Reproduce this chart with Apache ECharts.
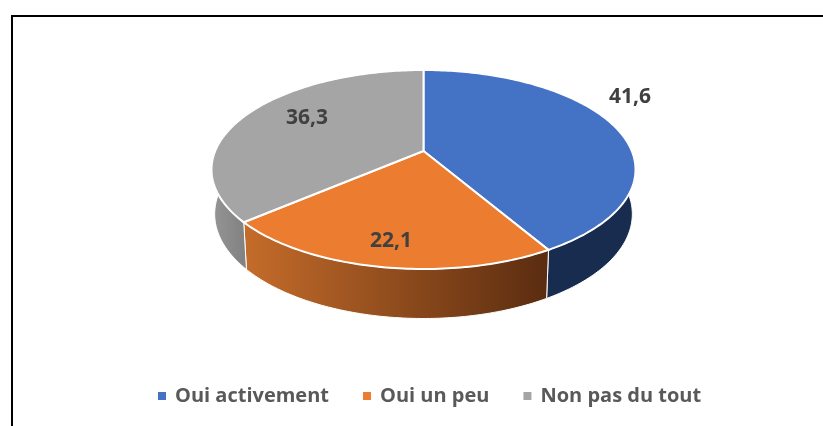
<!DOCTYPE html>
<html>
<head>
<meta charset="utf-8">
<script src="https://cdn.jsdelivr.net/npm/echarts@6/dist/echarts.min.js"></script>
<style>
	html, body { margin: 0; padding: 0; background: #fff; }
	#chart { width: 823px; height: 426px; }
</style>
</head>
<body>
<div id="chart"></div>
<script>
const categories = ["Oui activement", "Oui un peu", "Non pas du tout"]
const values = [41.6, 22.1, 36.3]
const labels = ["41,6", "22,1", "36,3"]

const faceColors = ["#4472C4", "#EB7C30", "#A5A5A5"]
const wallColors = [
	["#182C50", "#182C50"],
	["#C56C2A", "#5A2C10"],
	["#969696", "#808080"],
]
const labelPos = [[630, 97], [391, 241], [307, 118]]

// tilted disc: perspective projection fitted on the picture
const cx = 423.5
const apexY = 151
const R = 208.3
const A = 96.06
const K = 0.186
const project = (deg) => {
	const t = (deg * Math.PI) / 180
	const u = Math.sin(t)
	const v = Math.cos(t)
	const d = 1 + K * v
	return [cx + (R * u) / d, apexY - (A * v) / d]
}
// lower rim of the disc, from the upper one
const lower = (p) => [cx + (p[0] - cx) * 0.985, 213.5 + (p[1] - 169) * 1.05]

const total = values.reduce((a, b) => a + b, 0)
const startDeg = (i) => (values.slice(0, i).reduce((a, b) => a + b, 0) / total) * 360

const arc = (from, to) => {
	const pts = []
	const n = Math.max(2, Math.ceil(to - from))
	for (let i = 0; i <= n; i++) pts.push(project(from + ((to - from) * i) / n))
	return pts
}

const renderSlice = (i) => (params, api) => {
	const from = startDeg(i)
	const to = from + (api.value(0) / total) * 360
	const children = []
	// only the front of the wall shows
	const wallFrom = Math.max(from, 90)
	const wallTo = Math.min(to, 270)
	if (wallTo > wallFrom) {
		const rim = arc(wallFrom, wallTo)
		children.push({
			type: "polygon",
			z2: 1,
			shape: { points: rim.concat(rim.map(lower).reverse()) },
			style: {
				fill: new echarts.graphic.LinearGradient(0, 0, 1, 0, [
					{ offset: 0, color: wallColors[i][0] },
					{ offset: 1, color: wallColors[i][1] },
				]),
				stroke: "#fff",
				lineWidth: 1,
			},
		})
	}
	children.push({
		type: "polygon",
		z2: 2,
		shape: { points: [[cx, apexY]].concat(arc(from, to)) },
		style: { fill: faceColors[i], stroke: "#fff", lineWidth: 2 },
	})
	children.push({
		type: "text",
		z2: 3,
		x: labelPos[i][0],
		y: labelPos[i][1],
		style: {
			text: labels[i],
			fill: "#404040",
			font: 'bold 21px "Open Sans"',
			textAlign: "center",
			textVerticalAlign: "middle",
		},
	})
	return { type: "group", children }
}

const chart = echarts.init(document.getElementById("chart"))
chart.setOption({
	animation: false,
	graphic: [
		{
			type: "rect",
			shape: { x: 12, y: 16, width: 830, height: 430 },
			style: { fill: "none", stroke: "#000", lineWidth: 2 },
		},
	],
	legend: {
		data: categories,
		top: 381,
		left: 153,
		icon: "rect",
		itemWidth: 8,
		itemHeight: 8,
		itemGap: 34,
		textStyle: {
			color: "#595959",
			fontFamily: "Open Sans",
			fontWeight: "bold",
			fontSize: 20,
			padding: [0, 0, 0, 4],
		},
	},
	series: categories.map((name, i) => ({
		type: "custom",
		name,
		coordinateSystem: "none",
		itemStyle: { color: faceColors[i] },
		data: [[values[i]]],
		renderItem: renderSlice(i),
	})),
})
</script>
</body>
</html>
